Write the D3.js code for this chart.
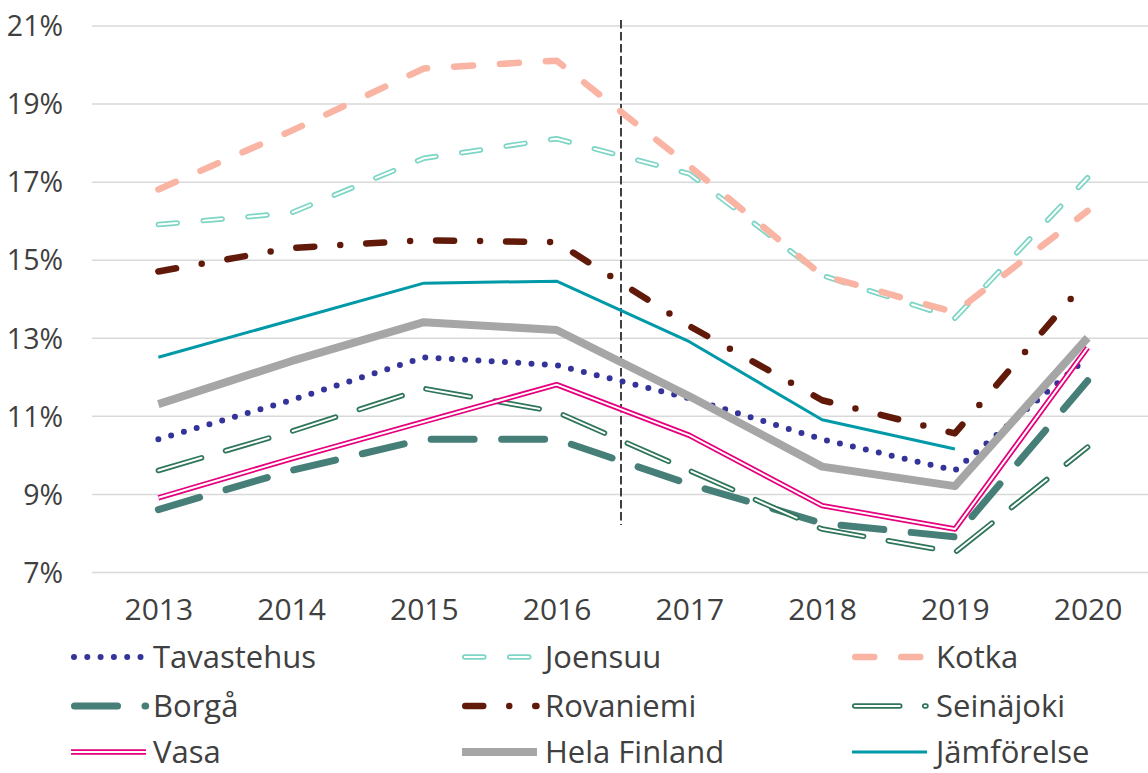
<!DOCTYPE html>
<html><head><meta charset="utf-8">
<script src="https://cdn.jsdelivr.net/npm/d3@7"></script>
<style>
body{margin:0;background:#fff}
text{font-family:"Open Sans",sans-serif;fill:#404040}
</style>
</head><body>
<svg id="c" width="1148" height="773"></svg>
<script>
const years = ["2013","2014","2015","2016","2017","2018","2019","2020"];
const yTicks = [7,9,11,13,15,17,19,21];
const seriesNames = ["Tavastehus","Joensuu","Kotka","Borgå","Rovaniemi","Seinäjoki","Vasa","Hela Finland","Jämförelse"];
const tavastehus = [10.4, 11.4, 12.5, 12.3, 11.45, 10.4, 9.6, 12.5];
const joensuu    = [15.9, 16.2, 17.6, 18.1, 17.2, 14.6, 13.5, 17.1];
const kotka      = [16.8, 18.3, 19.9, 20.1, 17.4, 14.6, 13.65, 16.25];
const borga      = [8.6, 9.6, 10.4, 10.4, 9.25, 8.25, 7.9, 11.9];
const rovaniemi  = [14.7, 15.3, 15.5, 15.45, 13.3, 11.4, 10.55, 14.5];
const seinajoki  = [9.6, 10.6, 11.7, 11.1, 9.6, 8.1, 7.5, 10.2];
const vasa       = [8.9, 9.9, 10.85, 11.8, 10.5, 8.7, 8.1, 12.75];
const helaFinland= [11.3, 12.4, 13.4, 13.2, 11.5, 9.7, 9.2, 13.0];
const jamforelse = [12.5, 13.45, 14.4, 14.45, 12.9, 10.9, 10.15, null];
const seriesValues = [tavastehus, joensuu, kotka, borga, rovaniemi, seinajoki, vasa, helaFinland, jamforelse];

const styles = [
  {color:"#333399", w:6, dash:"0 13.3"},
  {color:"#7dd5c6", w:5.5, inner:2, dash:"19 26"},
  {color:"#f9b4a3", w:6.5, dash:"19 27"},
  {color:"#467e78", w:7, dash:"43 27.5"},
  {color:"#611a09", w:6.5, dash:"18 26 0 26"},
  {color:"#2e7559", w:5.5, inner:2, dash:"45 25"},
  {color:"#e5007d", w:5.5, inner:2, dash:null},
  {color:"#a6a6a6", w:8, dash:null},
  {color:"#0099a8", w:3, dash:null}
];

const svg = d3.select("#c");
const mLeft = 92, mRight = 1154, mTop = 25.5, mBottom = 572;
const FS = 30, YFS = 28.5, LFS = 31;
const x = d3.scalePoint().domain(years).range([mLeft, mRight]).padding(0.5);
const y = d3.scaleLinear().domain([7,21]).range([mBottom, mTop]);

// y axis + gridlines
const ya = svg.append("g").attr("transform",`translate(${mLeft},0)`)
  .call(d3.axisLeft(y).tickValues(yTicks).tickFormat(d=>d+"%").tickSize(-(mRight-mLeft)).tickPadding(29));
ya.select(".domain").remove();
ya.selectAll("line").attr("stroke","#d9d9d9").attr("stroke-width",1.5);
ya.selectAll("text").attr("font-size",YFS).attr("dy","0.36em").attr("fill","#404040");

// x axis
const xa = svg.append("g").attr("transform",`translate(0,${mBottom})`)
  .call(d3.axisBottom(x).tickSize(0));
xa.select(".domain").remove();
xa.selectAll("text").attr("font-size",FS).attr("dy",null).attr("y",48).attr("fill","#404040");

// vertical dashed line between 2016 and 2017
const vx = (x("2016")+x("2017"))/2 - 2;
svg.append("line").attr("x1",vx).attr("x2",vx).attr("y1",20).attr("y2",525)
  .attr("stroke","#404040").attr("stroke-width",2).attr("stroke-dasharray","8.5 3.5");

const line = d3.line().defined(d=>d!=null).x((d,i)=>x(years[i])).y(d=>y(d));

function drawPath(g, dAttr, s){
  const p = g.append("path").attr("d",dAttr).attr("fill","none")
    .attr("stroke",s.color).attr("stroke-width",s.w)
    .attr("stroke-linecap", s.dash ? "round" : "butt").attr("stroke-linejoin","round");
  if (s.dash) p.attr("stroke-dasharray", s.dash);
  if (s.inner){
    const q = g.append("path").attr("d",dAttr).attr("fill","none")
      .attr("stroke","#fff").attr("stroke-width",s.inner)
      .attr("stroke-linecap", s.dash ? "round" : "butt").attr("stroke-linejoin","round");
    if (s.dash) q.attr("stroke-dasharray", s.dash);
  }
}

const lines = svg.append("g");
seriesValues.forEach((vals,i)=>{
  drawPath(lines, line(vals), styles[i]);
});

// legend
const colX = [71, 462, 852];
const textX = [153, 545, 936];
const rowY = [657, 706, 752];
const lg = svg.append("g");
seriesNames.forEach((name,i)=>{
  const c = i%3, r = Math.floor(i/3);
  const s = styles[i];
  const yy = rowY[r];
  let x0, x1;
  if (s.dash){ x0 = colX[c] + s.w/2; x1 = x0 + 71.2; }
  else { x0 = colX[c]; x1 = colX[c] + 75; }
  drawPath(lg, `M${x0},${yy}L${x1},${yy}`, s);
  lg.append("text").attr("x",textX[c]).attr("y",yy).attr("dy","0.36em")
    .attr("font-size",LFS).text(name);
});
</script>
</body></html>
